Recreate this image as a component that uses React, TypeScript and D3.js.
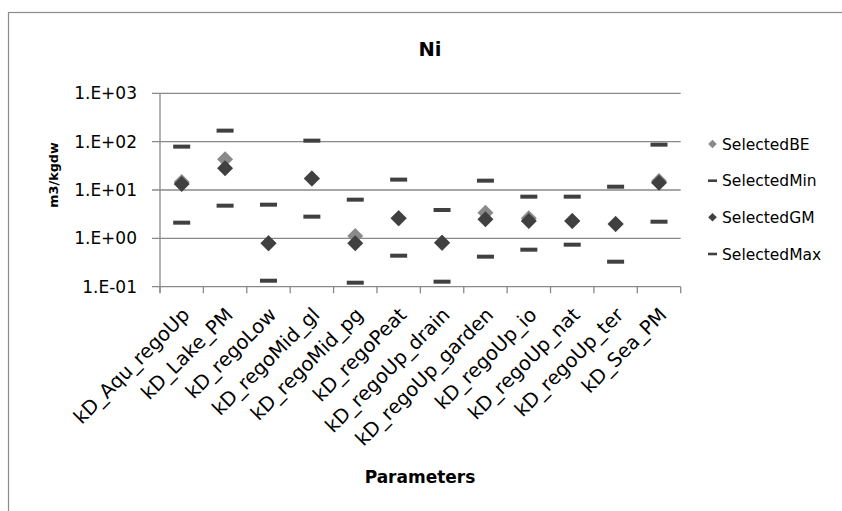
import React from "react";
import * as d3 from "d3";

const categories = [
  "kD_Aqu_regoUp",
  "kD_Lake_PM",
  "kD_regoLow",
  "kD_regoMid_gl",
  "kD_regoMid_pg",
  "kD_regoPeat",
  "kD_regoUp_drain",
  "kD_regoUp_garden",
  "kD_regoUp_io",
  "kD_regoUp_nat",
  "kD_regoUp_ter",
  "kD_Sea_PM",
];
const selectedBE = [14.7, 43.3, 0.79, 17.2, 1.12, 2.6, 0.81, 3.4, 2.6, 2.29, 1.98, 15.4];
const selectedMin = [2.11, 4.74, 0.133, 2.81, 0.121, 0.438, 0.127, 0.418, 0.583, 0.74, 0.329, 2.21];
const selectedGM = [13.3, 28.2, 0.79, 17.2, 0.79, 2.6, 0.81, 2.48, 2.29, 2.29, 1.98, 14.2];
const selectedMax = [78.9, 169, 4.97, 105, 6.31, 16.4, 3.86, 15.6, 7.28, 7.28, 11.7, 86.7];
const yTicks = [0.1, 1, 10, 100, 1000];
const legendLabels = ["SelectedBE", "SelectedMin", "SelectedGM", "SelectedMax"];

const W = 842;
const H = 511;
const FONT = "'DejaVu Sans', sans-serif";
const GRID = "#898989";
const DARK = "#404040";
const LIGHT = "#8a8a8a";

function fmtTick(v: number) {
  const e = Math.round(Math.log10(v));
  return `1.E${e >= 0 ? "+" : "-"}${String(Math.abs(e)).padStart(2, "0")}`;
}

function diamond(cx: number, cy: number, r: number) {
  return `M${cx},${cy - r}L${cx + r},${cy}L${cx},${cy + r}L${cx - r},${cy}Z`;
}

export default function App() {
  const x = d3.scaleBand<string>().domain(categories).range([160, 680.7]);
  const y = d3.scaleLog().domain([0.1, 1000]).range([286.7, 93.3]);
  const bw = x.bandwidth();
  const cx = (c: string) => (x(c) as number) + bw / 2;
  const boundaries = d3.range(categories.length + 1).map((i) => 160 + i * bw);
  const x0 = 160;
  const x1 = 680.7;
  const yb = y(0.1);

  const legendY = [144, 180.7, 217.3, 254];

  return (
    <svg
      width={W}
      height={H}
      style={{ position: "absolute", left: 0, top: 0, background: "#fff" }}
      fontFamily={FONT}
    >
      <rect x={0} y={0} width={W} height={H} fill="#fff" />
      <rect x={8.5} y={12.5} width={900} height={600} fill="none" stroke="#8c8c8c" strokeWidth={1.2} />

      <text x={430} y={56} textAnchor="middle" fontWeight="bold" fontSize={19.5} fill="#000">
        Ni
      </text>

      {/* gridlines + y ticks */}
      {yTicks.map((t) => (
        <g key={t}>
          <line x1={152} x2={x1} y1={y(t)} y2={y(t)} stroke={GRID} strokeWidth={1.3} />
          <text
            x={137}
            y={y(t)}
            dy="0.36em"
            textAnchor="end"
            fontSize={17}
            fill="#000"
          >
            {fmtTick(t)}
          </text>
        </g>
      ))}

      {/* y axis */}
      <line x1={x0} x2={x0} y1={y(1000)} y2={yb + 6} stroke={GRID} strokeWidth={1.3} />
      {/* x axis ticks */}
      {boundaries.map((b, i) => (
        <line key={i} x1={b} x2={b} y1={yb} y2={yb + 6.5} stroke={GRID} strokeWidth={1.3} />
      ))}

      {/* y axis title */}
      <text
        transform={`translate(58,175) rotate(-90)`}
        textAnchor="middle"
        fontWeight="bold"
        fontSize={12.8}
        fill="#000"
      >
        m3/kgdw
      </text>

      {/* category labels */}
      {categories.map((c) => (
        <text
          key={c}
          transform={`translate(${cx(c) + 9},${316}) rotate(-45)`}
          textAnchor="end"
          fontSize={19.5}
          fill="#000"
        >
          {c}
        </text>
      ))}

      <text x={420} y={482.5} textAnchor="middle" fontWeight="bold" fontSize={17} fill="#000">
        Parameters
      </text>

      {/* series */}
      {categories.map((c, i) => (
        <path key={"be" + i} d={diamond(cx(c), y(selectedBE[i]), 8)} fill={LIGHT} />
      ))}
      {categories.map((c, i) => (
        <rect
          key={"mn" + i}
          x={cx(c) - 8.5}
          y={y(selectedMin[i]) - 2}
          width={17}
          height={4}
          fill={DARK}
        />
      ))}
      {categories.map((c, i) => (
        <path key={"gm" + i} d={diamond(cx(c), y(selectedGM[i]), 8)} fill={DARK} />
      ))}
      {categories.map((c, i) => (
        <rect
          key={"mx" + i}
          x={cx(c) - 8.5}
          y={y(selectedMax[i]) - 2}
          width={17}
          height={4}
          fill={DARK}
        />
      ))}

      {/* legend */}
      {legendLabels.map((l, i) => (
        <g key={l}>
          {i % 2 === 0 ? (
            <path d={diamond(712.5, legendY[i], 4.3)} fill={i === 0 ? LIGHT : DARK} />
          ) : (
            <rect x={708} y={legendY[i] - 1.3} width={9} height={2.6} fill={DARK} />
          )}
          <text x={722} y={legendY[i]} dy="0.36em" fontSize={15.5} fill="#000">
            {l}
          </text>
        </g>
      ))}
    </svg>
  );
}
